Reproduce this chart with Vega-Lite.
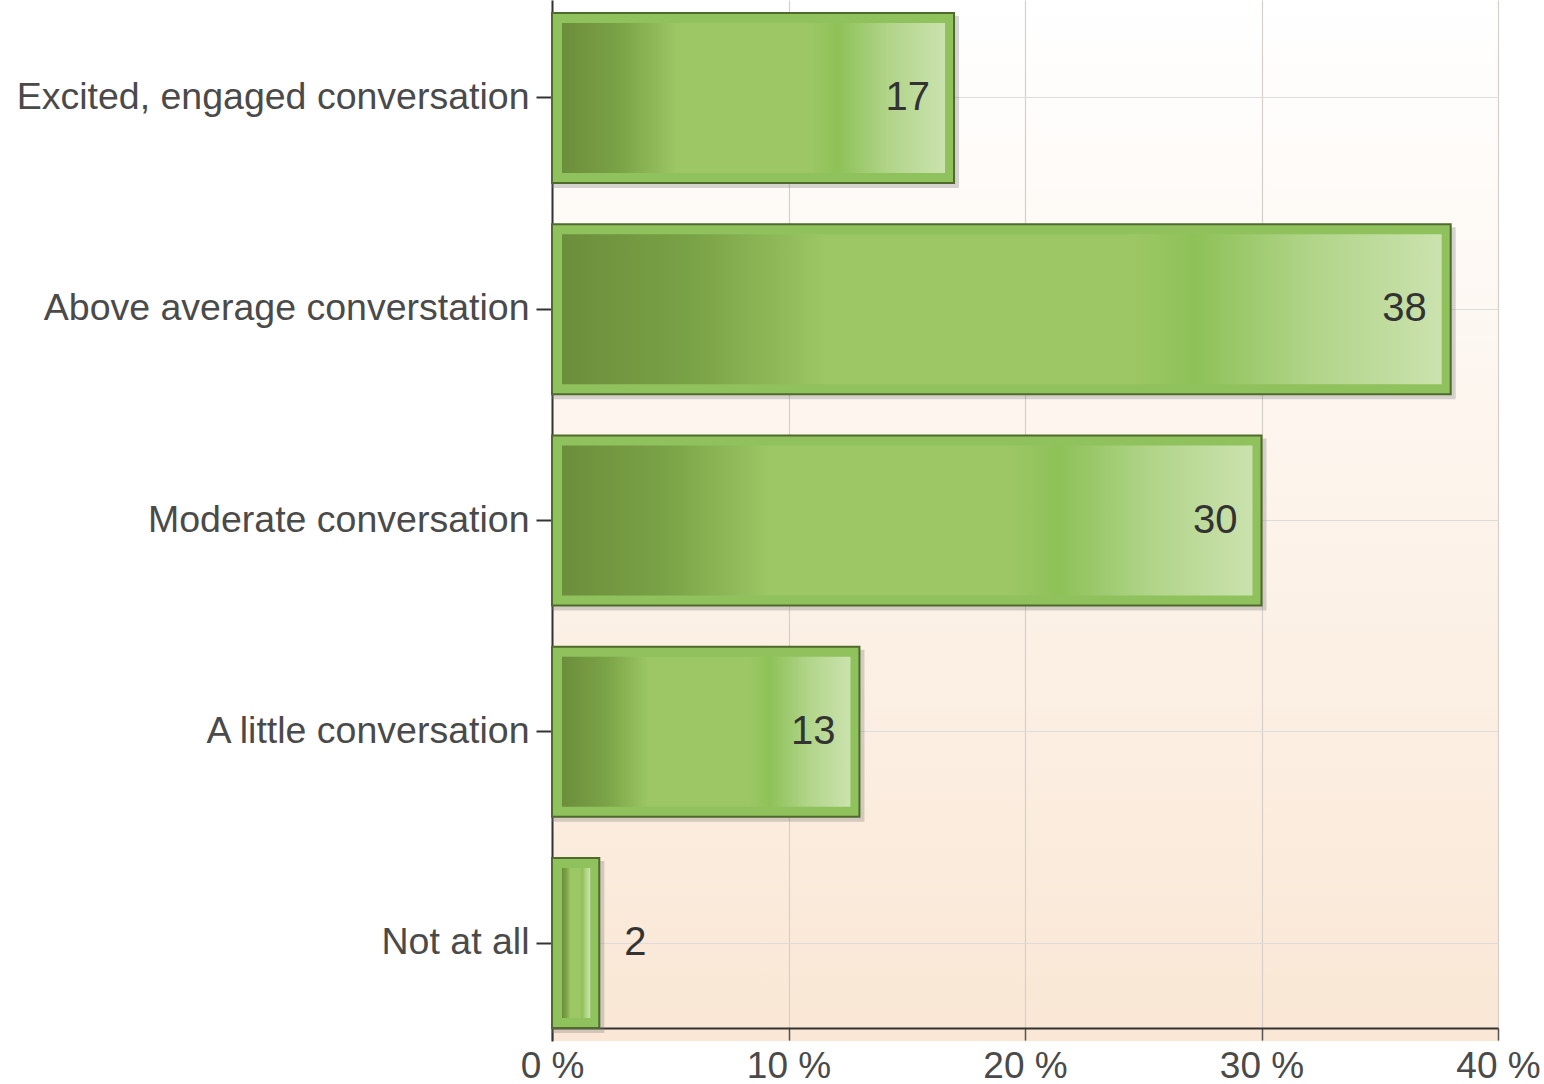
{
  "$schema": "https://vega.github.io/schema/vega-lite/v6.json",
  "autosize": "none",
  "width": 946,
  "height": 1041,
  "padding": {"left": 552, "top": 0, "right": 46, "bottom": 43},
  "background": "#ffffff",
  "config": {
    "font": "Liberation Sans",
    "view": {
      "stroke": null,
      "fill": {"gradient": "linear", "x1": 0, "y1": 0, "x2": 0, "y2": 1, "stops": [{"offset": 0, "color": "#ffffff"}, {"offset": 1, "color": "#fae7d5"}]}
    }
  },
  "data": {
    "values": [
      {"answer": "Excited, engaged conversation", "value": 17},
      {"answer": "Above average converstation", "value": 38},
      {"answer": "Moderate conversation", "value": 30},
      {"answer": "A little conversation", "value": 13},
      {"answer": "Not at all", "value": 2}
    ]
  },
  "encoding": {
    "y": {
      "field": "answer", "type": "nominal", "sort": null,
      "scale": {"paddingInner": 0.1953, "paddingOuter": 0.0615},
      "axis": {
        "title": null, "labelFontSize": 37.5, "labelColor": "#4a4a4a", "labelPadding": 7, "labelLimit": 700,
        "tickSize": 16, "tickColor": "#333333", "tickWidth": 2,
        "domainColor": "#333333", "domainWidth": 2,
        "grid": true, "gridColor": "#dcdcdc", "gridWidth": 1.2
      }
    },
    "x": {
      "field": "value", "type": "quantitative",
      "scale": {"domain": [0, 40], "nice": false},
      "axis": {
        "title": null, "values": [0, 10, 20, 30, 40], "labelExpr": "datum.value + ' %'",
        "labelFontSize": 37, "labelColor": "#4a4a4a", "labelPadding": 8,
        "labelFlush": false, "labelAlign": "center", "labelOverlap": false,
        "tickSize": 12, "tickColor": "#555555", "tickWidth": 1.5,
        "domainColor": "#333333", "domainWidth": 2, "offset": -13,
        "grid": true, "gridColor": "#d6d0ca", "gridWidth": 1.2
      }
    }
  },
  "layer": [
    {
      "mark": {"type": "bar", "fill": "#777777", "opacity": 0.3, "xOffset": 5, "yOffset": 4, "y2Offset": 4, "size": 172},
      "encoding": {"x2": {"datum": 0}}
    },
    {
      "mark": {"type": "bar", "fill": "#8fc15d", "stroke": "#4f6a2c", "strokeWidth": 2, "size": 170},
      "encoding": {"x2": {"datum": 0}}
    },
    {
      "mark": {
        "type": "bar", "size": 150, "xOffset": -9, "x2Offset": 10,
        "fill": {"gradient": "linear", "x1": 0, "y1": 0, "x2": 1, "y2": 0, "stops": [
          {"offset": 0, "color": "#6c8e3c"},
          {"offset": 0.15, "color": "#7aa246"},
          {"offset": 0.3, "color": "#9cc764"},
          {"offset": 0.65, "color": "#9cc764"},
          {"offset": 0.72, "color": "#8ec158"},
          {"offset": 0.85, "color": "#b0d488"},
          {"offset": 1, "color": "#cbe2ae"}
        ]}
      },
      "encoding": {"x2": {"datum": 0}}
    },
    {
      "transform": [{"filter": "datum.value >= 5"}],
      "mark": {"type": "text", "align": "right", "baseline": "middle", "dx": -24, "fontSize": 40, "color": "#333333"},
      "encoding": {"text": {"field": "value"}}
    },
    {
      "transform": [{"filter": "datum.value < 5"}],
      "mark": {"type": "text", "align": "left", "baseline": "middle", "dx": 25, "fontSize": 40, "color": "#333333"},
      "encoding": {"text": {"field": "value"}}
    }
  ]
}
